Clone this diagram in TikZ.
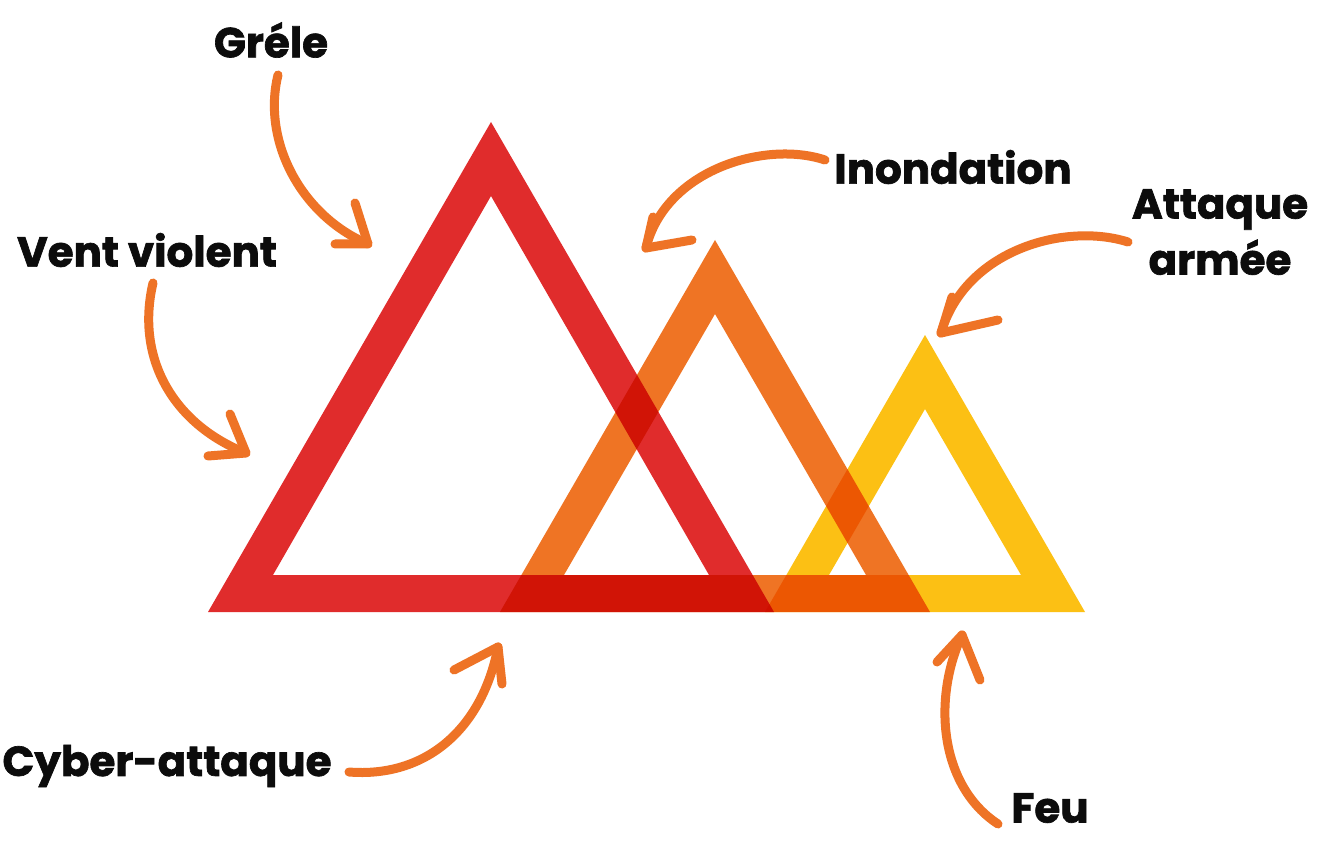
\documentclass[tikz,border=0pt]{standalone}
\usepackage{fontspec}
\newfontfamily\lblfont{Poppins}[BoldFeatures={FakeBold=1.6}]
\usetikzlibrary{calc}
\definecolor{frameRed}{RGB}{224,44,44}
\definecolor{frameOrange}{RGB}{239,116,36}
\definecolor{frameYellow}{RGB}{252,192,20}
\definecolor{arrowOrange}{RGB}{238,115,38}
\definecolor{inkBlack}{RGB}{12,12,12}
\tikzset{
  lbl/.style={text=inkBlack, font=\lblfont\bfseries\fontsize{42}{56}\selectfont, inner sep=0pt},
  hazard/.style={draw=arrowOrange, line width=9pt, line cap=round, line join=round},
}
\begin{document}
\begin{tikzpicture}[x=1pt, y=-1pt]
\useasboundingbox[fill=white] (0,0) rectangle (1317,842);

% triangular frames, overlapping parts darkened by multiplication
\begin{scope}[blend group=multiply]
  \fill[frameRed, even odd rule] (491,122) -- (208,612) -- (774,612) -- cycle
        (491,196) -- (273,575) -- (709,575) -- cycle;
  \fill[frameOrange, even odd rule] (715,240) -- (500,612) -- (930,612) -- cycle
        (715,314) -- (564,575) -- (866,575) -- cycle;
  \fill[frameYellow, even odd rule] (925,335) -- (765,612) -- (1085,612) -- cycle
        (925,409) -- (829,575) -- (1021,575) -- cycle;
\end{scope}

% labels
\node[lbl] (grele) at (271,40) {Gréle};
\node[lbl] (vent) at (147,250) {Vent violent};
\node[lbl] (inond) at (953,167) {Inondation};
\node[lbl, align=center] (attaque) at (1220,232) {Attaque\\armée};
\node[lbl] (cyber) at (167,766) {Cyber-attaque};
\node[lbl] (feu) at (1050,808) {Feu};

% arrow ends
\coordinate (s1) at (278,75);   \coordinate (t1) at (368,244);
\coordinate (s2) at (153,283);  \coordinate (t2) at (246,453);
\coordinate (s3) at (825,160);  \coordinate (t3) at (646,248);
\coordinate (s4) at (1128,242); \coordinate (t4) at (941,333);
\coordinate (s5) at (349,772);  \coordinate (t5) at (498,647);
\coordinate (s6) at (998,824);  \coordinate (t6) at (962,635);

% hand-drawn arrows from each label to the frames
\draw[hazard] (s1) .. controls (262,140) and (300,215) .. (t1);
\draw[hazard] (355,203) -- (t1) -- (335,244);
\draw[hazard] (s2) .. controls (135,360) and (175,425) .. (t2);
\draw[hazard] (230,414) -- (t2) -- (208,456);
\draw[hazard] (s3) .. controls (765,140) and (665,170) .. (t3);
\draw[hazard] (653,217) -- (t3) -- (692,240);
\draw[hazard] (s4) .. controls (1065,222) and (965,250) .. (t4);
\draw[hazard] (952,297) -- (t4) -- (998,320);
\draw[hazard] (s5) .. controls (425,778) and (482,730) .. (t5);
\draw[hazard] (454,670) -- (t5) -- (502,684);
\draw[hazard] (s6) .. controls (940,786) and (932,700) .. (t6);
\draw[hazard] (937,662) -- (t6) -- (980,680);
\end{tikzpicture}
\end{document}
